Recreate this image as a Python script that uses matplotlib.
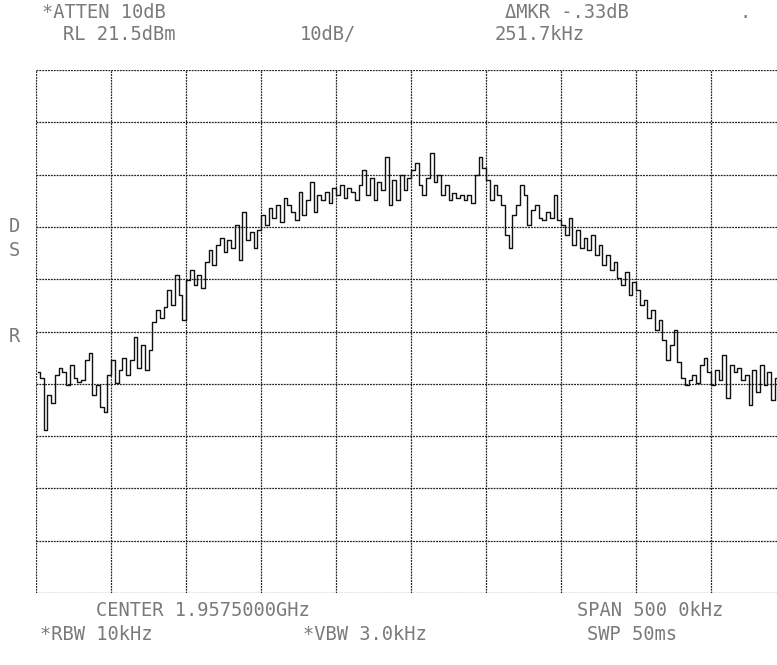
import numpy as np
import matplotlib
matplotlib.use("Agg")
import matplotlib.pyplot as plt

# ---- data ----
# Spectrum analyzer settings
ref_level_dbm = 21.5
db_per_div = 10
center_ghz = 1.9575
span_khz = 500.0

# Trace levels (dBm), 200 sweep points across the span, grouped per division
div1 = [-36.2, -37.4, -47.3, -40.6, -42.2, -36.8, -35.5, -36.2, -38.7, -34.9,
        -37.4, -38.2, -37.8, -33.9, -32.6, -40.6, -38.7, -42.9, -43.9, -36.8]
div2 = [-33.9, -38.3, -35.9, -33.6, -36.8, -33.9, -29.5, -35.5, -31.1, -35.9,
        -32.0, -26.7, -24.4, -25.9, -23.8, -20.6, -23.4, -17.7, -21.5, -26.3]
div3 = [-18.7, -16.7, -19.6, -17.7, -20.2, -15.2, -12.9, -15.8, -12.0, -10.6,
        -13.3, -11.0, -12.5, -8.1, -14.8, -5.7, -11.0, -9.5, -12.5, -9.1]
div4 = [-6.2, -8.1, -4.9, -6.8, -4.3, -7.6, -3.0, -4.3, -5.7, -7.2,
        -1.8, -6.2, -3.4, 0.1, -5.7, -2.4, -3.4, -1.8, -3.9, -1.1]
div5 = [-2.4, -0.5, -3.0, -1.1, -1.8, -3.4, -0.5, 2.4, -2.4, 0.8,
        -3.4, 0.1, -1.4, 4.9, -4.3, 0.5, -3.4, 1.4, -1.4, 0.8]
div6 = [2.4, 3.7, -0.5, -2.4, 0.8, 5.6, 0.1, 1.4, -2.4, -0.5,
        -3.4, -2.0, -3.0, -2.4, -3.4, -2.4, -3.9, 1.4, 4.9, 2.8]
div7 = [0.5, -3.4, -0.5, -2.4, -4.3, -10.0, -12.5, -6.2, -4.3, -0.5,
        -2.4, -8.1, -5.3, -4.3, -6.8, -7.2, -5.7, -6.8, -2.4, -7.2]
div8 = [-8.1, -10.0, -6.8, -12.0, -9.1, -12.5, -10.6, -12.9, -10.0, -13.9,
        -12.0, -15.8, -13.9, -16.7, -15.2, -18.3, -19.6, -17.1, -21.5, -19.0]
div9 = [-20.6, -23.4, -22.5, -25.9, -24.4, -28.2, -26.3, -30.1, -33.9, -31.1,
        -28.2, -34.3, -37.4, -38.7, -37.8, -36.8, -38.3, -34.9, -33.6, -36.2]
div10 = [-38.7, -35.9, -37.8, -33.0, -41.2, -34.9, -36.2, -35.5, -37.8, -36.8,
         -42.6, -35.9, -40.1, -34.9, -38.7, -36.2, -41.6, -37.4, -38.7, -37.8]

levels = np.array(div1 + div2 + div3 + div4 + div5 + div6 + div7 + div8 + div9 + div10)
n_pts = len(levels)
bin_khz = span_khz / n_pts
freq_khz = np.linspace(-span_khz / 2 + bin_khz / 2, span_khz / 2 - bin_khz / 2, n_pts)

# Annotation texts
top_texts = [("*ATTEN 10dB", 104, 12), ("RL 21.5dBm", 119, 34), ("10dB/", 328, 34),
             ("\u0394MKR -.33dB", 567, 12), ("251.7kHz", 540, 34), (".", 745, 12)]
bottom_texts = [("CENTER 1.9575000GHz", 203, 611), ("SPAN 500 0kHz", 650, 611),
                ("*RBW 10kHz", 96, 635), ("*VBW 3.0kHz", 365, 635), ("SWP 50ms", 632, 635)]
side_texts = [("D", 14, 226), ("S", 14, 250), ("R", 14, 336)]

# ---- figure ----
W, H = 777, 665
fig = plt.figure(figsize=(W / 100, H / 100), dpi=100)
fig.patch.set_facecolor("white")

left, right, top, bottom = 36, 786, 70, 593
ax = fig.add_axes([left / W, 1 - bottom / H, (right - left) / W, (bottom - top) / H])
ax.set_facecolor("white")

ymax = ref_level_dbm
ymin = ref_level_dbm - 10 * db_per_div
ax.set_xlim(-span_khz / 2, span_khz / 2)
ax.set_ylim(ymin, ymax)

ax.set_xticks(np.linspace(-span_khz / 2, span_khz / 2, 11))
ax.set_yticks(np.linspace(ymin, ymax, 11))
ax.tick_params(length=0, labelbottom=False, labelleft=False)
for s in ax.spines.values():
    s.set_visible(False)
grid_kw = dict(color="#222222", linewidth=0.9, linestyle=(0, (1.5, 0.8)), zorder=1)
for v in ax.get_xticks():
    ax.axvline(v, **grid_kw)
for v in ax.get_yticks():
    ax.axhline(v, **grid_kw)

ax.plot(freq_khz, levels, drawstyle="steps-mid", color="#111111", linewidth=1.0, zorder=3)

txt_kw = dict(family="DejaVu Sans Mono", color="#7a7a7a", fontsize=13.5,
              ha="center", va="center")
for s, x, y in top_texts + bottom_texts + side_texts:
    fig.text(x / W, 1 - y / H, s, **txt_kw)

fig.savefig("out.png", dpi=100, facecolor="white")
